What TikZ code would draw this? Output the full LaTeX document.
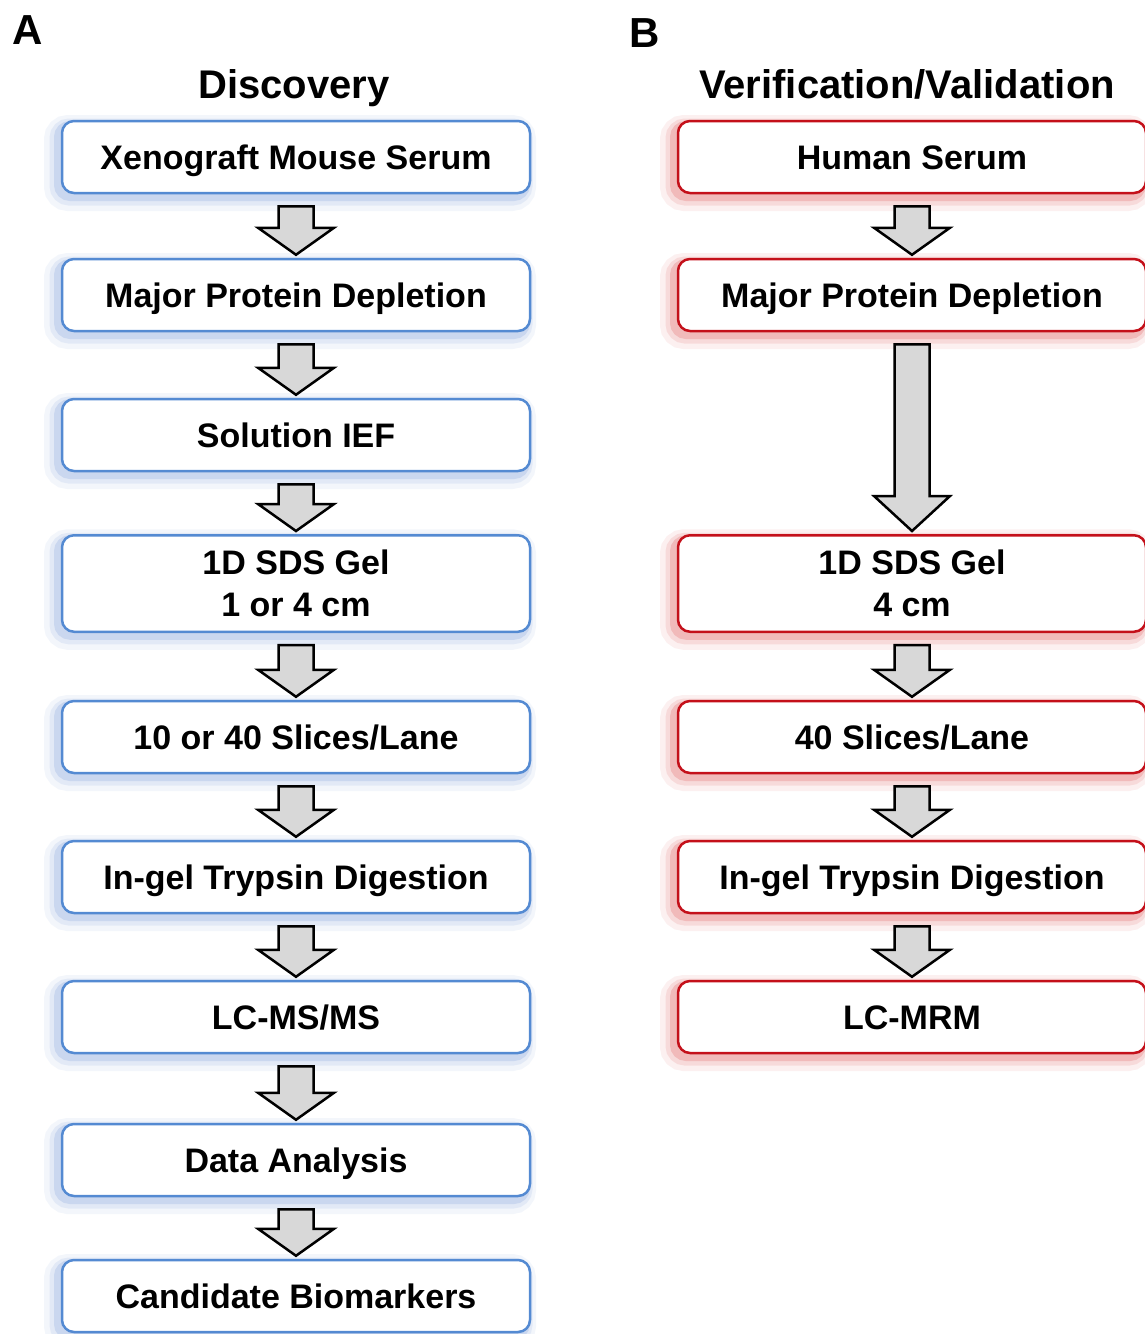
\documentclass[tikz,border=0pt]{standalone}
\usepackage{fontspec}
\setmainfont{Liberation Sans}
\usetikzlibrary{calc}

\definecolor{discblue}{RGB}{84,138,210}
\definecolor{discglow}{RGB}{95,135,210}
\definecolor{verred}{RGB}{196,16,26}
\definecolor{verglow}{RGB}{215,45,45}
\definecolor{arrowgray}{RGB}{216,216,216}

\tikzset{
  stepbox/.style={rounded corners=12pt, minimum width=468pt, minimum height=72pt,
    line width=2.5pt, fill=white, inner sep=0pt, align=center,
    font=\fontsize{34}{42}\selectfont\bfseries, text height=24.5pt, text depth=0pt},
  glow/.style={
    preaction={draw=#1, draw opacity=0.07, line width=24pt, transform canvas={shift={(-6pt,-6pt)}}},
    preaction={draw=#1, draw opacity=0.11, line width=15pt, transform canvas={shift={(-5pt,-5pt)}}},
    preaction={draw=#1, draw opacity=0.18, line width=8pt, transform canvas={shift={(-4pt,-4pt)}}}},
  discbox/.style={stepbox, draw=discblue, glow=discglow},
  verbox/.style={stepbox, draw=verred, glow=verglow},
  twoline/.style={minimum height=96.5pt, text height=66.5pt, text depth=0pt},
  blockarrow/.style={draw=black, fill=arrowgray, line width=2.5pt, line join=miter},
  panel/.style={font=\fontsize{42}{42}\selectfont\bfseries},
  heading/.style={font=\fontsize{40}{40}\selectfont\bfseries, anchor=base},
}

% block arrow from the bottom of one box to the top of the next
% #1 = upper box, #2 = lower box, #3 = length of the arrow head
\newcommand\flowarrow[3]{%
  \draw[blockarrow]
    ($(#1.south)+(-17.5,12)$) -- ($(#2.north)+(-17.5,-3-#3)$)
    -- ($(#2.north)+(-38,-3-#3)$) -- ($(#2.north)+(0,-3)$)
    -- ($(#2.north)+(38,-3-#3)$) -- ($(#2.north)+(17.5,-3-#3)$)
    -- ($(#1.south)+(17.5,12)$) -- cycle;}

\begin{document}
\begin{tikzpicture}[x=1pt, y=-1pt]
  \fill[white] (0,0) rectangle (1145,1334);
  \useasboundingbox (0,0) rectangle (1145,1334);
  \clip (0,0) rectangle (1145,1334);

  % panel letters and headings
  \node[panel] (pa) at (28,30) {A};
  \node[panel] (pb) at (645,33) {B};
  \node[heading] (hd) at (294,98) {Discovery};
  \node[heading] (hv) at (907,98) {Verification/Validation};

  % discovery workflow
  \node[discbox] (d1) at (296,157)  {Xenograft Mouse Serum};
  \node[discbox] (d2) at (296,295)  {Major Protein Depletion};
  \node[discbox] (d3) at (296,435)  {Solution IEF};
  \node[discbox, twoline] (d4) at (296,583.5) {1D SDS Gel\\1 or 4 cm};
  \node[discbox] (d5) at (296,737)  {10 or 40 Slices/Lane};
  \node[discbox] (d6) at (296,877)  {In-gel Trypsin Digestion};
  \node[discbox] (d7) at (296,1017) {LC-MS/MS};
  \node[discbox] (d8) at (296,1160) {Data Analysis};
  \node[discbox] (d9) at (296,1296) {Candidate Biomarkers};

  % verification / validation workflow
  \node[verbox] (v1) at (912,157)  {Human Serum};
  \node[verbox] (v2) at (912,295)  {Major Protein Depletion};
  \node[verbox, twoline] (v4) at (912,583.5) {1D SDS Gel\\4 cm};
  \node[verbox] (v5) at (912,737)  {40 Slices/Lane};
  \node[verbox] (v6) at (912,877)  {In-gel Trypsin Digestion};
  \node[verbox] (v7) at (912,1017) {LC-MRM};

  % arrows
  \flowarrow{d1}{d2}{27}
  \flowarrow{d2}{d3}{27}
  \flowarrow{d3}{d4}{27}
  \flowarrow{d4}{d5}{27}
  \flowarrow{d5}{d6}{27}
  \flowarrow{d6}{d7}{27}
  \flowarrow{d7}{d8}{27}
  \flowarrow{d8}{d9}{27}

  \flowarrow{v1}{v2}{27}
  \flowarrow{v2}{v4}{35}
  \flowarrow{v4}{v5}{27}
  \flowarrow{v5}{v6}{27}
  \flowarrow{v6}{v7}{27}
\end{tikzpicture}
\end{document}
